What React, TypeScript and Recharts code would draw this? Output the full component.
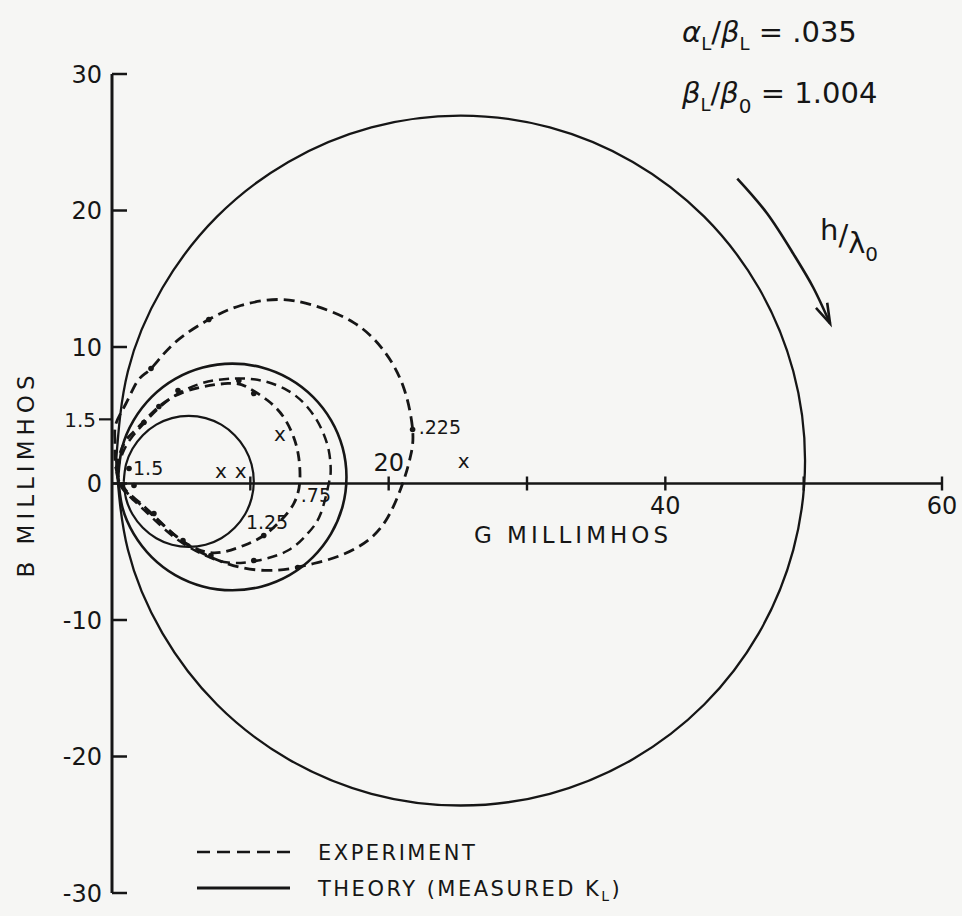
import React from 'react';
import { ComposedChart, Line, Scatter, XAxis, YAxis, ReferenceLine } from 'recharts';

const FONT = '"DejaVu Sans", "Liberation Sans", sans-serif';
const INK = '#161616';
const BG = '#f6f6f4';

type P = [number, number];

// G (millimhos), B (millimhos)
const theoryLarge: P[] = [
  [0.30, 1.68], [1.15, 8.22], [3.64, 14.32], [7.59, 19.55], [12.75, 23.56], [18.75, 26.09], [25.2, 26.95],
  [31.65, 26.09], [37.65, 23.56], [42.81, 19.55], [46.76, 14.32], [49.25, 8.22], [50.1, 1.68], [49.25, -4.86],
  [46.76, -10.96], [42.81, -16.19], [37.65, -20.2], [31.65, -22.73], [25.2, -23.59], [18.75, -22.73],
  [12.75, -20.2], [7.59, -16.19], [3.64, -10.96], [1.15, -4.86], [0.30, 1.68],
];
const theoryMedium: P[] = [
  [0.45, 0.48], [0.73, 2.63], [1.56, 4.63], [2.87, 6.35], [4.57, 7.67], [6.56, 8.5], [8.7, 8.78],
  [10.84, 8.5], [12.83, 7.67], [14.53, 6.35], [15.84, 4.63], [16.67, 2.63], [16.95, 0.48], [16.67, -1.67],
  [15.84, -3.67], [14.53, -5.39], [12.83, -6.71], [10.84, -7.54], [8.7, -7.82], [6.56, -7.54],
  [4.57, -6.71], [2.87, -5.39], [1.56, -3.67], [0.73, -1.67], [0.45, 0.48],
];
const theorySmall: P[] = [
  [0.85, 0.15], [1.01, 1.39], [1.48, 2.55], [2.23, 3.54], [3.2, 4.31], [4.33, 4.79], [5.55, 4.95],
  [6.77, 4.79], [7.9, 4.31], [8.87, 3.54], [9.62, 2.55], [10.09, 1.39], [10.25, 0.15], [10.09, -1.09],
  [9.62, -2.25], [8.87, -3.24], [7.9, -4.01], [6.77, -4.49], [5.55, -4.65], [4.33, -4.49],
  [3.2, -4.01], [2.23, -3.24], [1.48, -2.25], [1.01, -1.09], [0.85, 0.15],
];
const experimentLarge: P[] = [
  [0.22, 3.15], [0.29, 4.4], [1.01, 5.86], [1.88, 7.55], [2.82, 8.42], [4.48, 10.26], [7.0, 12.01],
  [9.31, 13.04], [11.99, 13.48], [14.58, 13.04], [17.47, 11.79], [19.64, 9.74], [21.08, 7.03],
  [21.73, 3.96], [21.59, 2.05], [21.01, 0], [19.93, -2.49], [18.48, -4.18], [16.53, -5.27],
  [14.58, -5.86], [12.92, -6.23], [11.26, -6.37], [9.31, -6.15], [7.36, -5.49], [5.34, -4.4],
  [3.54, -2.86], [2.09, -1.47], [1.01, -0.51], [0.43, 0.59], [0.22, 1.68], [0.22, 3.15],
];
const experimentOuter: P[] = [
  [0.36, 0.95], [0.79, 2.27], [1.37, 3.3], [2.31, 4.4], [4.04, 6.08], [6.43, 7.33], [8.81, 7.69],
  [10.76, 7.55], [12.71, 6.81], [14.15, 5.57], [15.09, 4.1], [15.67, 2.42], [15.81, 0.95], [15.67, 0],
  [15.09, -2.2], [14.15, -3.66], [12.71, -4.91], [10.54, -5.64], [8.38, -5.79], [6.43, -5.13],
  [4.62, -4.03], [2.96, -2.56], [1.59, -1.25], [0.65, -0.22], [0.36, 0.95],
];
const experimentInner: P[] = [
  [0.29, 1.1], [0.65, 2.42], [1.16, 3.37], [1.88, 4.1], [3.32, 5.57], [5.49, 6.81], [8.38, 7.33],
  [9.82, 7.03], [11.26, 6.08], [12.42, 4.84], [13.14, 3.37], [13.5, 1.9], [13.57, 0.07], [13.14, -1.47],
  [12.2, -2.71], [10.97, -3.81], [9.53, -4.54], [7.87, -5.05], [6.43, -4.91], [4.84, -4.03],
  [3.18, -2.56], [1.73, -1.25], [0.65, -0.15], [0.29, 1.1],
];
const experimentPoints: P[] = [
  [7.0, 12.01], [2.82, 8.42], [10.25, 6.59], [4.77, 6.81], [3.39, 5.64], [2.31, 4.47], [9.17, 7.55],
  [10.97, -3.81], [13.43, -6.15], [10.25, -5.64], [7.15, -5.27], [5.13, -4.18], [3.03, -2.2],
  [1.59, -0.15], [1.23, 1.1], [21.73, 3.96],
];
const centerMarks: P[] = [[7.87, 0.95], [9.31, 0.95], [12.13, 3.59], [25.42, 1.68]];
const hValueLabels = [
  { g: 1.52, b: 0.59, text: '1.5' },
  { g: 22.17, b: 3.66, text: '.225' },
  { g: 9.68, b: -3.3, text: '1.25' },
  { g: 13.65, b: -1.39, text: '.75' },
];
const axisNote = [{ g: 0, b: 4.7, text: '1.5' }];
const xTickValues = [10, 20, 30, 40, 50, 60];
const xTickLabels = [
  { g: 20, b: 0.95, text: '20' },
  { g: 40, b: -2.27, text: '40' },
  { g: 60, b: -2.27, text: '60' },
];
const yTicks = [-30, -20, -10, 0, 10, 20, 30];
const hArrow: P[] = [[45.2, 22.34], [47.36, 19.78], [49.24, 16.85], [50.69, 14.36], [51.91, 11.72]];

const pts = (a: P[]) => a.map(([g, b]) => ({ g, b }));

const YTick = (p: any) => {
  const { x, y, payload } = p;
  return (
    <g>
      <line x1={x} x2={x + 15} y1={y} y2={y} stroke={INK} strokeWidth={2.5} />
      <text x={x - 10} y={y} dy="0.36em" textAnchor="end" fontSize={24} fontFamily={FONT} fill={INK}>
        {String(payload.value)}
      </text>
    </g>
  );
};

const textShape = (anchor: 'start' | 'middle' | 'end', size: number) => (p: any) => (
  <text x={p.cx} y={p.cy} textAnchor={anchor} fontSize={size} fontFamily={FONT} fill={INK}>
    {p.payload.text}
  </text>
);

const crossShape = (p: any) => (
  <text x={p.cx} y={p.cy} dy="0.35em" textAnchor="middle" fontSize={20} fontFamily={FONT} fill={INK}>
    x
  </text>
);

const dotShape = (p: any) => <circle cx={p.cx} cy={p.cy} r={2.8} fill={INK} />;

const xTickShape = (p: any) => (
  <line x1={p.cx} x2={p.cx} y1={p.cy - 7} y2={p.cy + 7} stroke={INK} strokeWidth={2.4} />
);

const axisNoteShape = (p: any) => (
  <g>
    <line x1={p.cx - 13} x2={p.cx - 1} y1={p.cy} y2={p.cy} stroke={INK} strokeWidth={2.2} />
    <text x={p.cx - 16} y={p.cy} dy="0.36em" textAnchor="end" fontSize={20} fontFamily={FONT} fill={INK}>
      {p.payload.text}
    </text>
  </g>
);

const ArrowDot = (p: any) => {
  const { cx, cy, index } = p;
  if (index !== hArrow.length - 1) return <g key={`a${index}`} />;
  const [g1, b1] = hArrow[hArrow.length - 2];
  const [g2, b2] = hArrow[hArrow.length - 1];
  const ang = Math.atan2(-(b2 - b1) * 13.65, (g2 - g1) * 13.83);
  const L = 21;
  const s = 0.3;
  const ax = cx - L * Math.cos(ang - s);
  const ay = cy - L * Math.sin(ang - s);
  const bx = cx - L * Math.cos(ang + s);
  const by = cy - L * Math.sin(ang + s);
  return (
    <path key={`a${index}`} d={`M${ax},${ay} L${cx},${cy} L${bx},${by}`} fill="none" stroke={INK} strokeWidth={2.6} />
  );
};

export default function App() {
  const W = 962;
  const H = 916;
  return (
    <div style={{ position: 'absolute', left: 0, top: 0, width: W, height: H, background: BG, overflow: 'hidden' }}>
      <ComposedChart width={W} height={H} margin={{ top: 74, right: 20, bottom: 23, left: 52 }}>
        <XAxis type="number" dataKey="g" domain={[0, 60]} hide />
        <YAxis
          type="number"
          dataKey="b"
          domain={[-30, 30]}
          ticks={yTicks}
          interval={0}
          width={60}
          axisLine={{ stroke: INK, strokeWidth: 3 }}
          tickLine={false}
          tickSize={0}
          tickMargin={0}
          tick={(p: any) => <YTick {...p} />}
        />
        <ReferenceLine segment={[{ x: 0, y: 0 }, { x: 60, y: 0 }]} stroke={INK} strokeWidth={2.6} />
        <Line data={pts(theoryLarge)} dataKey="b" type="natural" stroke={INK} strokeWidth={2.3} dot={false} activeDot={false} isAnimationActive={false} />
        <Line data={pts(theoryMedium)} dataKey="b" type="natural" stroke={INK} strokeWidth={2.6} dot={false} activeDot={false} isAnimationActive={false} />
        <Line data={pts(theorySmall)} dataKey="b" type="natural" stroke={INK} strokeWidth={2.2} dot={false} activeDot={false} isAnimationActive={false} />
        <Line data={pts(experimentLarge)} dataKey="b" type="natural" stroke={INK} strokeWidth={2.8} strokeDasharray="11 6" dot={false} activeDot={false} isAnimationActive={false} />
        <Line data={pts(experimentOuter)} dataKey="b" type="natural" stroke={INK} strokeWidth={2.5} strokeDasharray="10 6" dot={false} activeDot={false} isAnimationActive={false} />
        <Line data={pts(experimentInner)} dataKey="b" type="natural" stroke={INK} strokeWidth={2.8} strokeDasharray="10 6" dot={false} activeDot={false} isAnimationActive={false} />
        <Line data={pts(hArrow)} dataKey="b" type="natural" stroke={INK} strokeWidth={2.6} dot={ArrowDot} activeDot={false} isAnimationActive={false} />
        <Scatter data={xTickValues.map((g) => ({ g, b: 0 }))} dataKey="b" shape={xTickShape} isAnimationActive={false} />
        <Scatter data={pts(experimentPoints)} dataKey="b" shape={dotShape} isAnimationActive={false} />
        <Scatter data={pts(centerMarks)} dataKey="b" shape={crossShape} isAnimationActive={false} />
        <Scatter data={hValueLabels} dataKey="b" shape={textShape('start', 19)} isAnimationActive={false} />
        <Scatter data={xTickLabels} dataKey="b" shape={textShape('middle', 24)} isAnimationActive={false} />
        <Scatter data={axisNote} dataKey="b" shape={axisNoteShape} isAnimationActive={false} />
      </ComposedChart>
      <svg
        width={W}
        height={H}
        style={{ position: 'absolute', left: 0, top: 0, pointerEvents: 'none' }}
        fontFamily={FONT}
        fill={INK}
      >
        <text transform="translate(34,474) rotate(-90)" textAnchor="middle" fontSize={23} letterSpacing={5}>
          B MILLIMHOS
        </text>
        <text x={573} y={543} textAnchor="middle" fontSize={23} letterSpacing={4}>
          G MILLIMHOS
        </text>
        <text x={682} y={42} fontSize={29}>
          <tspan fontStyle="italic">α</tspan>
          <tspan dy={8} fontSize={18}>L</tspan>
          <tspan dy={-8}>/</tspan>
          <tspan fontStyle="italic">β</tspan>
          <tspan dy={8} fontSize={18}>L</tspan>
          <tspan dy={-8}> = .035</tspan>
        </text>
        <text x={682} y={103} fontSize={29}>
          <tspan fontStyle="italic">β</tspan>
          <tspan dy={8} fontSize={18}>L</tspan>
          <tspan dy={-8}>/</tspan>
          <tspan fontStyle="italic">β</tspan>
          <tspan dy={10} fontSize={20}>0</tspan>
          <tspan dy={-10}> = 1.004</tspan>
        </text>
        <text x={820} y={240} fontSize={29}>
          <tspan>h</tspan>
          <tspan dy={5}>/</tspan>
          <tspan dy={8}>λ</tspan>
          <tspan dy={8} fontSize={20}>0</tspan>
        </text>
        <line x1={197} x2={290} y1={852} y2={852} stroke={INK} strokeWidth={2.6} strokeDasharray="13 7" />
        <text x={318} y={860} fontSize={21} letterSpacing={2.5}>
          EXPERIMENT
        </text>
        <line x1={197} x2={290} y1={888} y2={888} stroke={INK} strokeWidth={3.2} />
        <text x={318} y={896} fontSize={21} letterSpacing={2.5}>
          <tspan>THEORY (MEASURED K</tspan>
          <tspan dy={5} fontSize={14}>L</tspan>
          <tspan dy={-5}>)</tspan>
        </text>
      </svg>
    </div>
  );
}
